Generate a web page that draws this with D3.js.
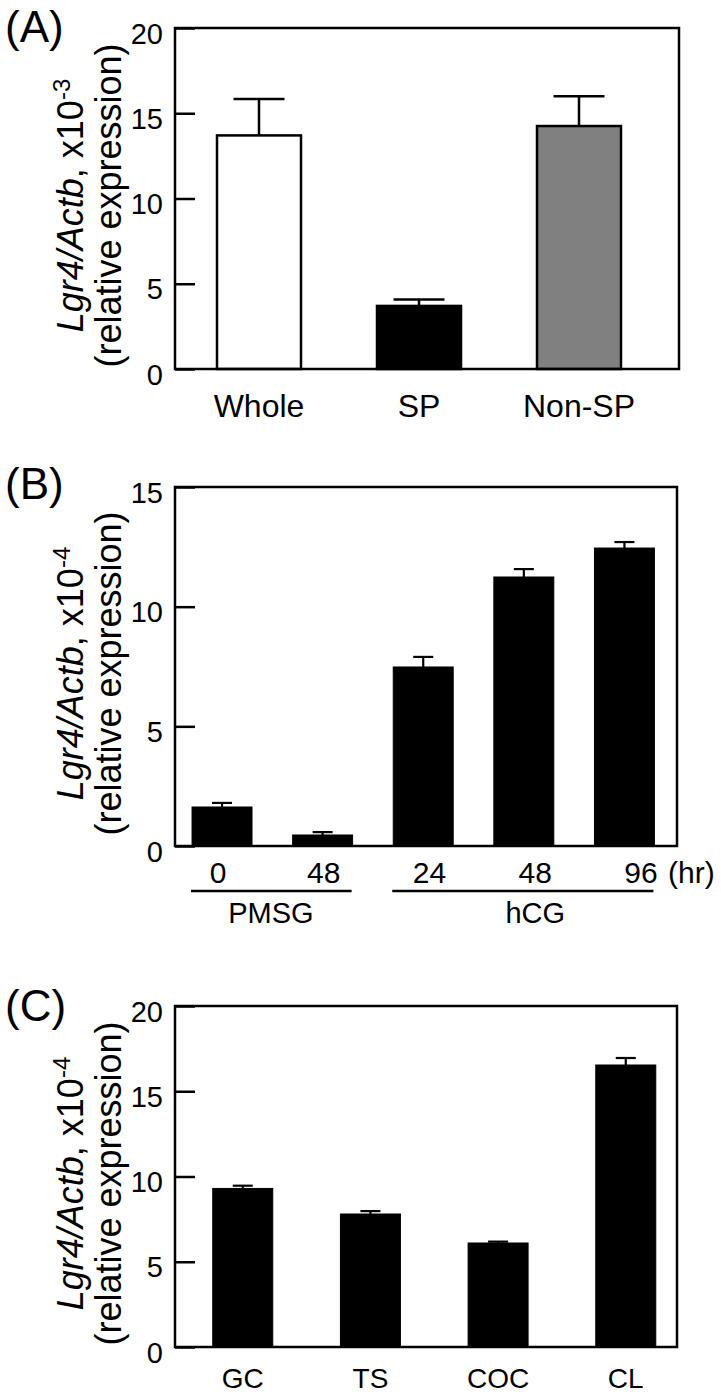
<!DOCTYPE html>
<html><head><meta charset="utf-8">
<script src="https://cdn.jsdelivr.net/npm/d3@7"></script>
<style>
body{margin:0;background:#fff}
svg{display:block}
text{font-family:"Liberation Sans",Arial,Helvetica,sans-serif;fill:#000}
</style>
</head><body>
<svg id="chart" width="721" height="1397"></svg>
<script>
// ---------- Panel A ----------
const aCategories = ["Whole", "SP", "Non-SP"];
const aValues = [13.7, 3.7, 14.25];
const aErrors = [2.14, 0.37, 1.75];
const aFills = ["#ffffff", "#000000", "#808080"];
const aTicks = [0, 5, 10, 15, 20];
// ---------- Panel B ----------
const bCategories = ["PMSG-0", "PMSG-48", "hCG-24", "hCG-48", "hCG-96"];
const bTickLabels = ["0", "48", "24", "48", "96"];
const bGroups = ["PMSG", "PMSG", "hCG", "hCG", "hCG"];
const bGroupNames = ["PMSG", "hCG"];
const bValues = [1.63, 0.46, 7.48, 11.24, 12.45];
const bErrors = [0.17, 0.12, 0.42, 0.33, 0.25];
const bTicks = [0, 5, 10, 15];
// ---------- Panel C ----------
const cCategories = ["GC", "TS", "COC", "CL"];
const cValues = [9.3, 7.8, 6.1, 16.54];
const cErrors = [0.16, 0.17, 0.08, 0.41];
const cTicks = [0, 5, 10, 15, 20];

const svg = d3.select("#chart");
const FONT = '"Liberation Sans",Arial,Helvetica,sans-serif';

function drawPanel(o) {
  const g = svg.append("g");
  const x = d3.scaleBand().domain(o.categories).range([o.left, o.right])
    .paddingInner(o.pi).paddingOuter(o.po).align(o.align);
  const y = d3.scaleLinear().domain([0, o.max]).range([o.bottom, o.top]);

  // bars
  g.selectAll("rect.bar").data(o.values).join("rect")
    .attr("class", "bar")
    .attr("x", (d, i) => x(o.categories[i]))
    .attr("width", x.bandwidth())
    .attr("y", d => y(d))
    .attr("height", d => y(0) - y(d))
    .attr("fill", (d, i) => o.fills ? o.fills[i] : "#000")
    .attr("stroke", "#000")
    .attr("stroke-width", o.barStroke);

  // error bars
  const eg = g.selectAll("g.err").data(o.values).join("g").attr("class", "err");
  eg.append("line")
    .attr("x1", (d, i) => x(o.categories[i]) + x.bandwidth() / 2)
    .attr("x2", (d, i) => x(o.categories[i]) + x.bandwidth() / 2)
    .attr("y1", d => y(d))
    .attr("y2", (d, i) => y(d + o.errors[i]))
    .attr("stroke", "#000").attr("stroke-width", o.errStroke);
  eg.append("line")
    .attr("x1", (d, i) => x(o.categories[i]) + x.bandwidth() / 2 - o.cap / 2)
    .attr("x2", (d, i) => x(o.categories[i]) + x.bandwidth() / 2 + o.cap / 2)
    .attr("y1", (d, i) => y(d + o.errors[i]))
    .attr("y2", (d, i) => y(d + o.errors[i]))
    .attr("stroke", "#000").attr("stroke-width", o.errStroke);

  // frame
  g.append("rect")
    .attr("x", o.left).attr("y", o.top)
    .attr("width", o.right - o.left).attr("height", o.bottom - o.top)
    .attr("fill", "none").attr("stroke", "#000").attr("stroke-width", 2.5);

  // y axis (inward ticks)
  const ax = g.append("g").attr("transform", `translate(${o.left},0)`)
    .call(d3.axisLeft(y).tickValues(o.ticks).tickFormat(d3.format("d"))
      .tickSizeInner(-20).tickSizeOuter(0).tickPadding(12));
  ax.select(".domain").remove();
  ax.selectAll(".tick line").attr("stroke", "#000").attr("stroke-width", 2.5);
  ax.selectAll(".tick text").attr("font-size", 29).attr("font-family", FONT)
    .attr("fill", "#000").attr("dy", "0.52em");

  // y title
  const cy = (o.top + o.bottom) / 2 + 7;
  const t1 = g.append("text")
    .attr("transform", `translate(83,${cy}) rotate(-90)`)
    .attr("text-anchor", "middle").attr("font-size", 36);
  t1.append("tspan").attr("font-style", "italic").text("Lgr4/Actb");
  t1.append("tspan").text(", x10");
  t1.append("tspan").attr("font-size", 24).attr("dy", -13).text(o.exp);
  g.append("text")
    .attr("transform", `translate(121,${cy}) rotate(-90)`)
    .attr("text-anchor", "middle").attr("font-size", 36)
    .text("(relative expression)");

  // panel label
  g.append("text").attr("x", 5).attr("y", o.labelY)
    .attr("font-size", 44).text(o.label);

  return {g, x, y};
}

// Panel A
const A = drawPanel({
  categories: aCategories, values: aValues, errors: aErrors, fills: aFills,
  ticks: aTicks, max: 20, left: 175, right: 679, top: 28, bottom: 369,
  pi: 0.475, po: 0.3125, align: 0.42, barStroke: 2.5, errStroke: 2.5, cap: 51,
  exp: "-3", label: "(A)", labelY: 42
});
A.g.selectAll("text.cat").data(aCategories).join("text")
  .attr("class", "cat")
  .attr("x", d => A.x(d) + A.x.bandwidth() / 2)
  .attr("y", 417).attr("text-anchor", "middle").attr("font-size", 32)
  .text(d => d);

// Panel B
const B = drawPanel({
  categories: bCategories, values: bValues, errors: bErrors,
  ticks: bTicks, max: 15, left: 175, right: 677, top: 487, bottom: 846,
  pi: 0.404, po: 0.197, align: 0.43, barStroke: 1, errStroke: 2.2, cap: 20,
  exp: "-4", label: "(B)", labelY: 499
});
const bLab = d3.scalePoint().domain(bCategories).range([218, 641]);
B.g.selectAll("text.tl").data(bCategories).join("text")
  .attr("class", "tl")
  .attr("x", d => bLab(d)).attr("y", 883)
  .attr("text-anchor", "middle").attr("font-size", 30)
  .text((d, i) => bTickLabels[i]);
B.g.append("text")
  .attr("x", bLab(bCategories[bCategories.length - 1]) + 27).attr("y", 883)
  .attr("font-size", 30).text("(hr)");
bGroupNames.forEach(gn => {
  const cats = bCategories.filter((c, i) => bGroups[i] === gn);
  const x1 = B.x(cats[0]) - 1;
  const x2 = B.x(cats[cats.length - 1]) + B.x.bandwidth() - 1;
  B.g.append("line").attr("x1", x1).attr("x2", x2).attr("y1", 891).attr("y2", 891)
    .attr("stroke", "#000").attr("stroke-width", 2.5);
  B.g.append("text")
    .attr("x", d3.mean(cats, c => bLab(c))).attr("y", 923)
    .attr("text-anchor", "middle").attr("font-size", 29).text(gn);
});

// Panel C
const C = drawPanel({
  categories: cCategories, values: cValues, errors: cErrors,
  ticks: cTicks, max: 20, left: 175, right: 677, top: 1006, bottom: 1347,
  pi: 0.53, po: 0.231, align: 0.64, barStroke: 1, errStroke: 2.2, cap: 20,
  exp: "-4", label: "(C)", labelY: 1021
});
C.g.selectAll("text.cat").data(cCategories).join("text")
  .attr("class", "cat")
  .attr("x", d => C.x(d) + C.x.bandwidth() / 2)
  .attr("y", 1388).attr("text-anchor", "middle").attr("font-size", 28)
  .text(d => d);
</script>
</body></html>
